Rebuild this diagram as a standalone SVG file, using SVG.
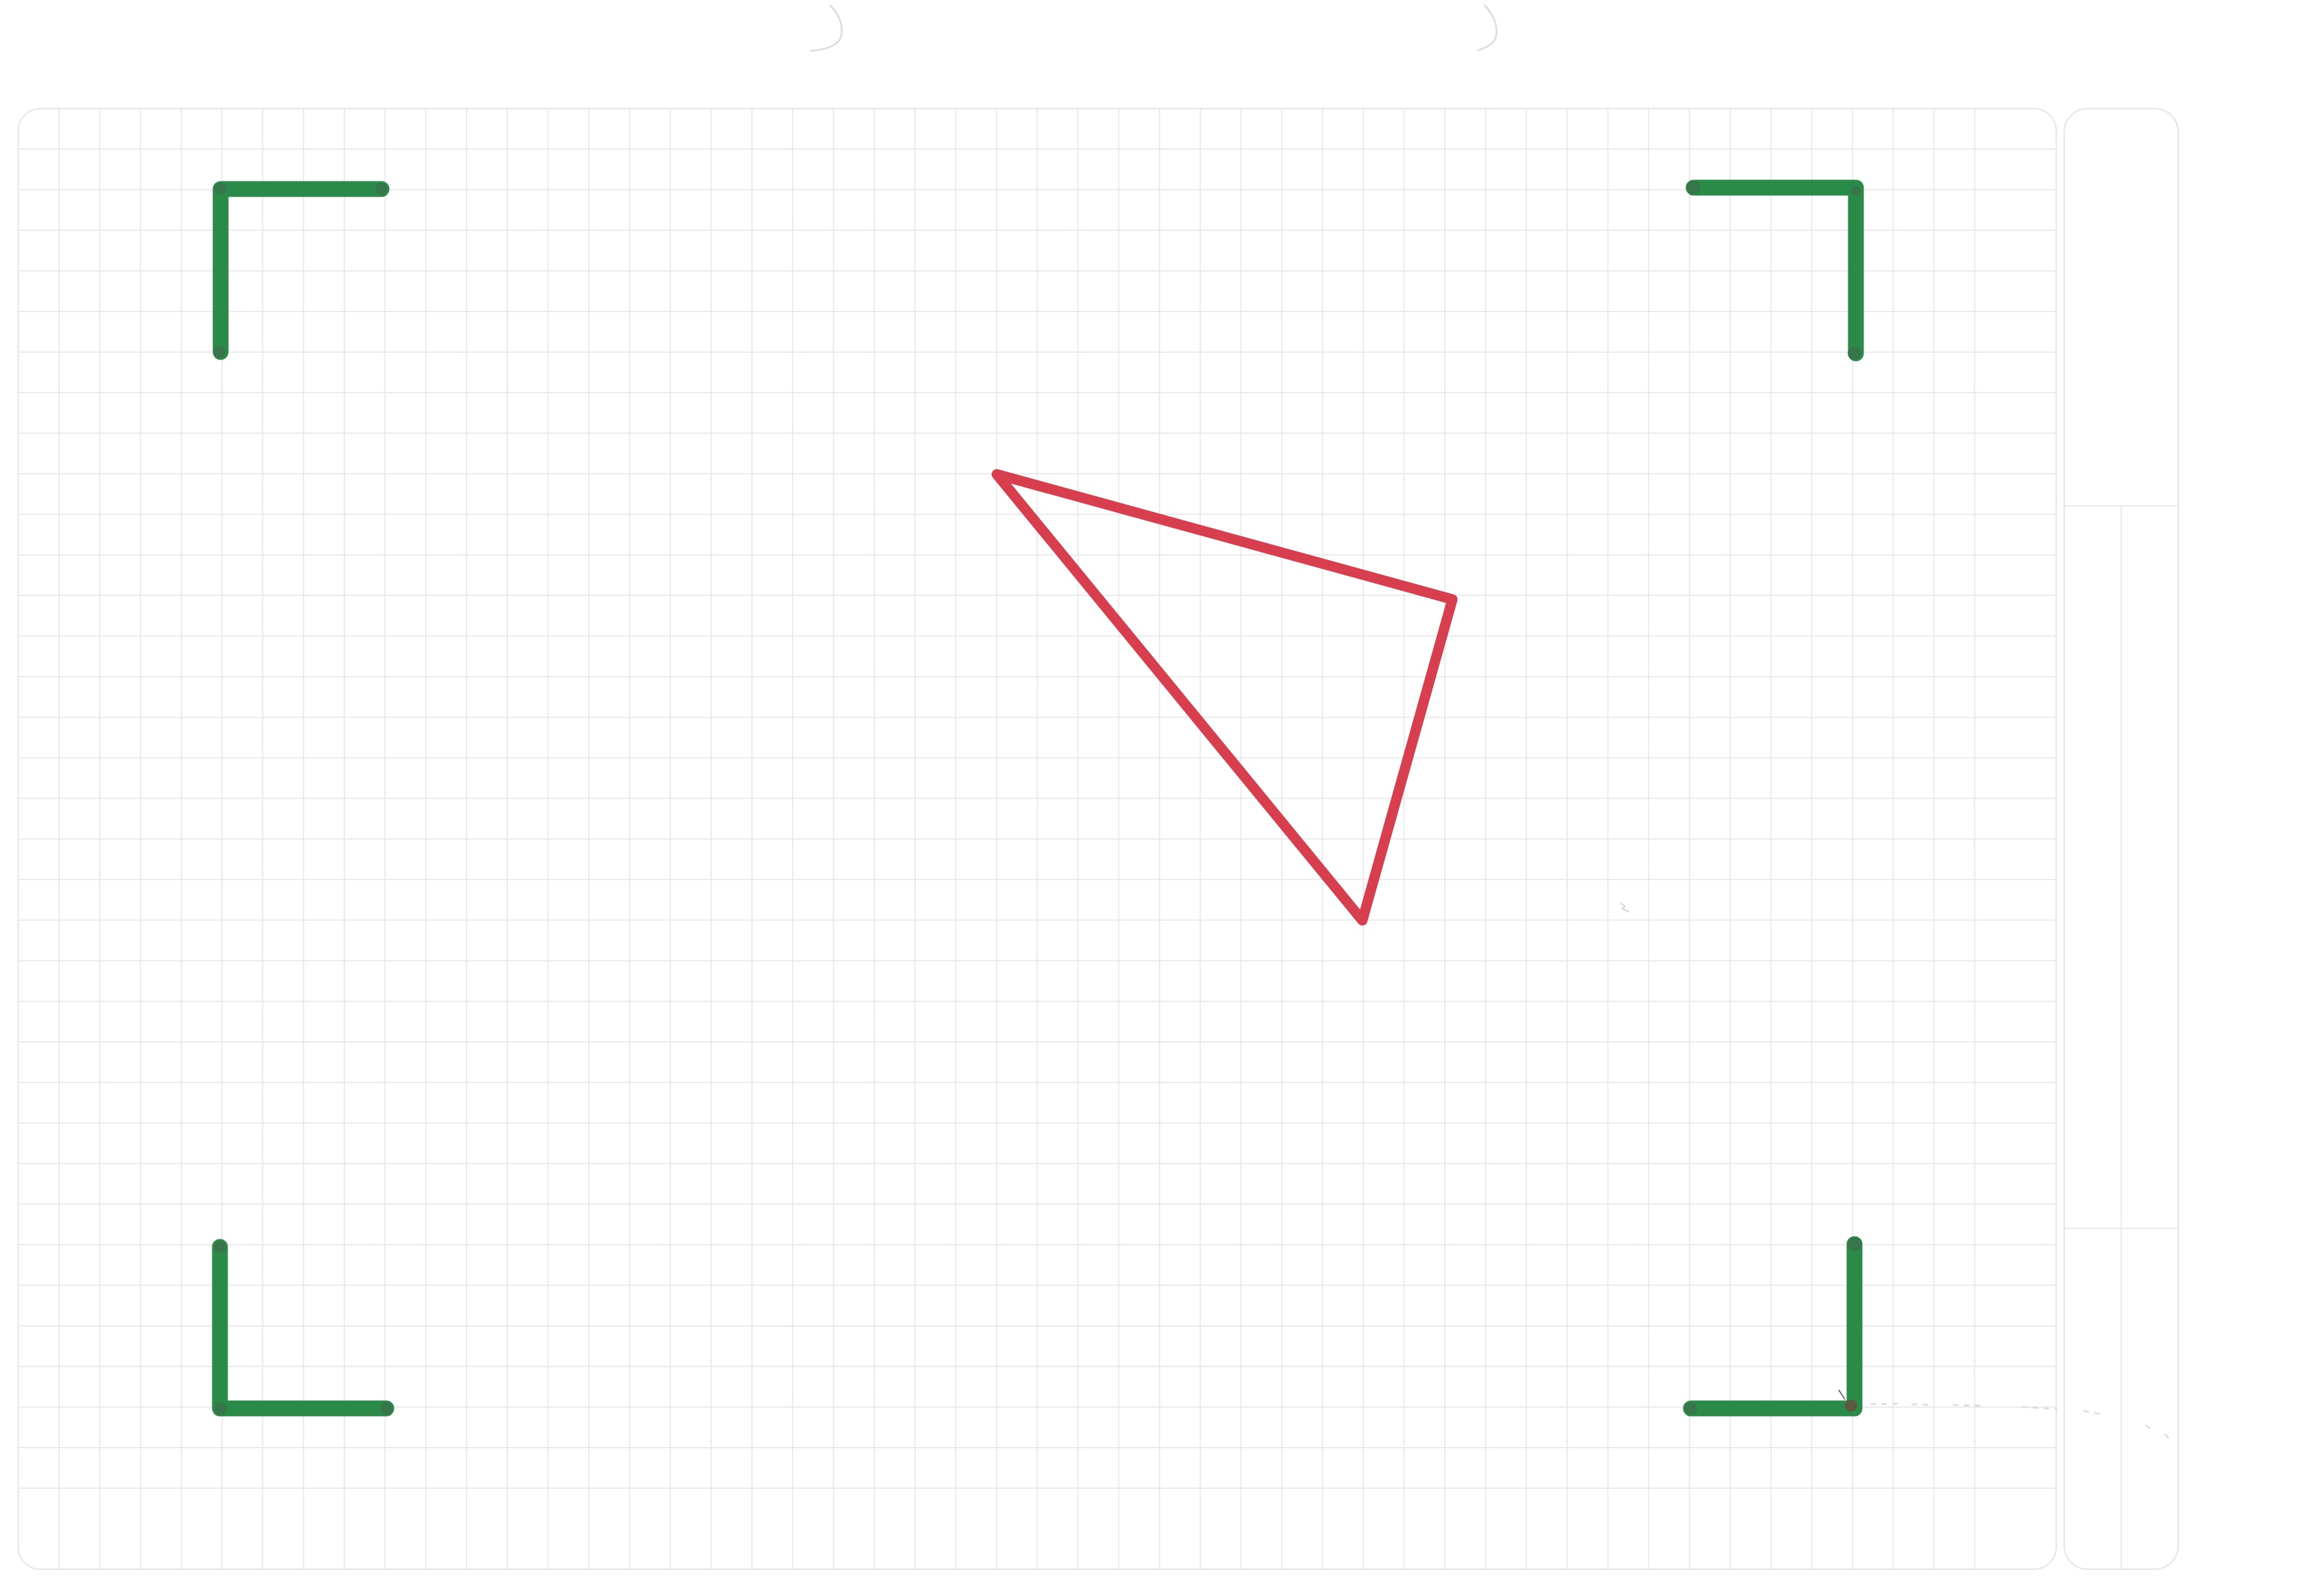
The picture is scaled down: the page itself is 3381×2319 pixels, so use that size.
<svg xmlns="http://www.w3.org/2000/svg" width="3381" height="2319" viewBox="0 0 3381 2319">
<style>
.grid{fill:none;stroke:#e7e4ea;stroke-width:1.5}
.frame{fill:none;stroke:#e6e4ea;stroke-width:2}
.green{fill:none;stroke:#2a8a47;stroke-width:23;stroke-linecap:round;stroke-linejoin:round}
.dot{fill:#3c6e4b;opacity:0.75}
.red{fill:none;stroke:#d83f4e;stroke-width:15;stroke-linecap:round;stroke-linejoin:round}
.faint{fill:none;stroke:#dcdcde;stroke-width:2.5;stroke-linecap:round}
</style>
<rect width="3381" height="2319" fill="#ffffff"/>
<g id="grid-paper">
<path class="grid" d="M85.8 158V2283m59.3-2125V2283m59.3-2125V2283m59.3-2125V2283m59.3-2125V2283m59.3-2125V2283m59.3-2125V2283m59.3-2125V2283m59.3-2125V2283m59.3-2125V2283m59.3-2125V2283m59.3-2125V2283m59.3-2125V2283m59.3-2125V2283m59.3-2125V2283m59.3-2125V2283m59.3-2125V2283m59.3-2125V2283m59.3-2125V2283m59.3-2125V2283m59.3-2125V2283m59.3-2125V2283m59.3-2125V2283m59.3-2125V2283m59.3-2125V2283m59.3-2125V2283m59.3-2125V2283m59.3-2125V2283m59.3-2125V2283m59.3-2125V2283m59.3-2125V2283m59.3-2125V2283m59.3-2125V2283m59.3-2125V2283m59.3-2125V2283m59.3-2125V2283m59.3-2125V2283m59.3-2125V2283m59.3-2125V2283m59.3-2125V2283m59.3-2125V2283m59.3-2125V2283m59.3-2125V2283m59.3-2125V2283m59.3-2125V2283m59.3-2125V2283m59.3-2125V2283m59.3-2125V2283"/>
<path class="grid" d="M26.5 217.03H2991.5m-2965 59.03H2991.5m-2965 59.03H2991.5m-2965 59.03H2991.5m-2965 59.03H2991.5m-2965 59.03H2991.5m-2965 59.03H2991.5m-2965 59.03H2991.5m-2965 59.03H2991.5m-2965 59.03H2991.5m-2965 59.03H2991.5m-2965 59.03H2991.5m-2965 59.03H2991.5m-2965 59.03H2991.5m-2965 59.03H2991.5m-2965 59.03H2991.5m-2965 59.03H2991.5m-2965 59.03H2991.5m-2965 59.03H2991.5m-2965 59.03H2991.5m-2965 59.03H2991.5m-2965 59.03H2991.5m-2965 59.03H2991.5m-2965 59.03H2991.5m-2965 59.03H2991.5m-2965 59.03H2991.5m-2965 59.03H2991.5m-2965 59.03H2991.5m-2965 59.03H2991.5m-2965 59.03H2991.5m-2965 59.03H2991.5m-2965 59.03H2991.5m-2965 59.03H2991.5m-2965 59.03H2991.5"/>
<rect class="frame" x="26.5" y="158" width="2965" height="2125" rx="32"/>
</g>
<g id="side-panel">
<rect class="frame" x="3003" y="158" width="166" height="2125" rx="34"/>
<path class="grid" d="M3003 736H3169M3003 1787H3169M3086 736V2283"/>
</g>
<g id="scan-marks">
<path class="faint" d="M1208 8C1222 22 1228 40 1223 55C1218 66 1205 72 1180 74"/>
<path class="faint" d="M2160 8C2174 22 2180 40 2176 55C2172 64 2162 70 2150 73"/>
<path class="faint" d="M2358 1314l6 5l-4 3l9 4" stroke="#b9b6ba" stroke-width="2"/>
<path class="faint" d="M2722 2043l40-1m20 1l30 1m30 0l40 1m60 2l50 3m40 3l30 5m60 16l8 5m20 8l8 8" stroke="#e4e4e6" stroke-dasharray="6 10"/>
</g>
<g id="bracket-top-left">
<path class="green" d="M555 275H321V512"/>
<circle class="dot" cx="321" cy="275" r="9"/>
<circle class="dot" cx="555" cy="275" r="9"/>
<circle class="dot" cx="319" cy="512" r="9"/>
</g>
<g id="bracket-top-right">
<path class="green" d="M2464 273H2700V514"/>
<circle class="dot" cx="2464" cy="273" r="10"/>
<circle class="dot" cx="2700" cy="278" r="7"/>
<circle class="dot" cx="2698" cy="514" r="10"/>
</g>
<g id="bracket-bottom-left">
<path class="green" d="M320 1814V2049H562"/>
<circle class="dot" cx="320" cy="1814" r="9"/>
<circle class="dot" cx="321" cy="2049" r="9"/>
<circle class="dot" cx="562" cy="2049" r="9"/>
</g>
<g id="bracket-bottom-right">
<path class="green" d="M2698 1810V2049H2460"/>
<circle class="dot" cx="2698" cy="1810" r="10"/>
<circle class="dot" cx="2460" cy="2049" r="9"/>
<circle cx="2693" cy="2045" r="9" fill="#7a3a3a" opacity="0.6"/>
<path d="M2675 2022l9 14" stroke="#555" stroke-width="1.5" fill="none"/>
</g>
<g id="red-triangle">
<path class="red" d="M1450 690L2113 872L1982 1339Z"/>
</g>
</svg>
